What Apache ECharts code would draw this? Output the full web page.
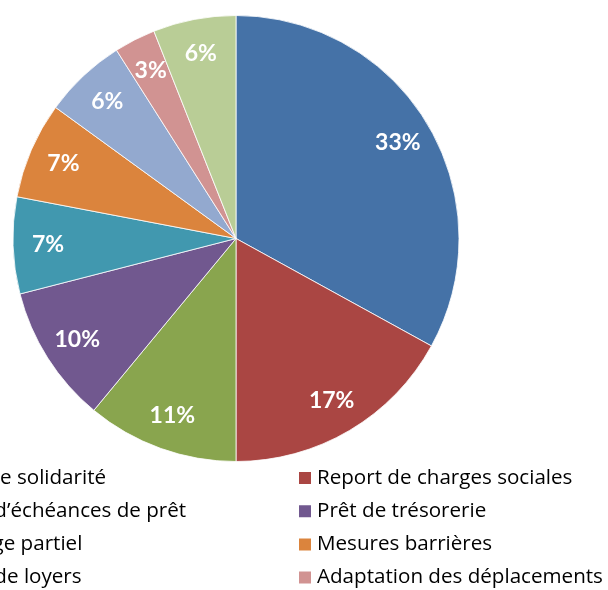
<!DOCTYPE html>
<html><head><meta charset="utf-8">
<script src="https://cdn.jsdelivr.net/npm/echarts@6/dist/echarts.min.js"></script>
<style>html,body{margin:0;padding:0;background:#fff}#c{width:608px;height:590px}</style>
</head><body><div id="c"></div>
<script>
const categories = ["Fonds de solidarité","Report de charges sociales","Report d’échéances de prêt","Prêt de trésorerie","Chômage partiel","Mesures barrières","Report de loyers","Adaptation des déplacements","Autres"];
const values = [33,17,11,10,7,7,6,3,6];
const colors = ["#4572A7","#AA4643","#89A54E","#71588F","#4198AF","#DB843D","#93A9CF","#D19392","#B9CD96"];
const leftLegend = [categories[0],categories[2],categories[4],categories[6]];
const rightLegend = [categories[1],categories[3],categories[5],categories[7]];

const data = categories.map((n,i)=>({name:n,value:values[i],itemStyle:{color:colors[i]}}));
const legendFont = "'Open Sans', sans-serif";
const labelFont = "Lato, 'Open Sans', sans-serif";
const legendCommon = {orient:'vertical',top:467.5,height:300,padding:0,itemWidth:14,itemHeight:14,itemGap:12.2,icon:'rect',
  textStyle:{fontFamily:legendFont,fontSize:20.6,color:'#000',lineHeight:19},selectedMode:false};
const chart = echarts.init(document.getElementById('c'),null,{renderer:'canvas'});
chart.setOption({
  animation:false,
  legend:[
    Object.assign({left:-96,data:leftLegend},legendCommon),
    Object.assign({left:297,data:rightLegend},legendCommon)
  ],
  series:[
    {type:'pie',center:[236,238.5],radius:[0,223],startAngle:90,clockwise:true,
     data:data,label:{show:false},labelLine:{show:false},
     itemStyle:{borderColor:'#fff',borderWidth:0.8},emphasis:{disabled:true}},
    {type:'pie',center:[236,238.5],radius:[147,223],startAngle:90,clockwise:true,silent:true,
     data:categories.map((n,i)=>({name:n,value:values[i]})),
     itemStyle:{color:'rgba(0,0,0,0)'},
     label:{show:true,position:'inside',formatter:p=>p.value+'%',color:'#fff',fontFamily:labelFont,fontWeight:'bold',fontSize:23},
     labelLine:{show:false},emphasis:{disabled:true},legendHoverLink:false}
  ]
});
</script></body></html>
